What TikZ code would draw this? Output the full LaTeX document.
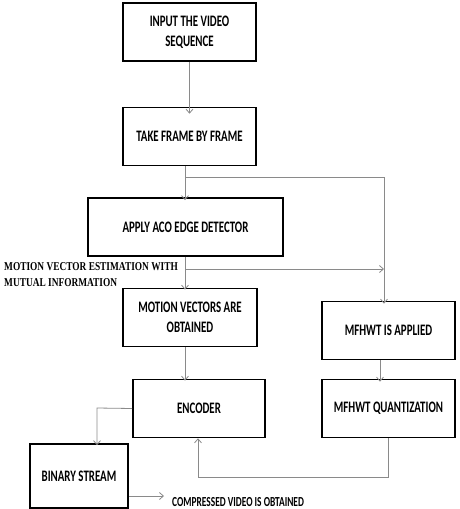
\documentclass[tikz,border=0pt]{standalone}
\usepackage{fontspec}
\setmainfont{Carlito}
\newfontfamily\boxfont[FakeStretch=0.68]{Carlito}
\newfontfamily\notefont[FakeStretch=0.78]{Liberation Serif}
\usetikzlibrary{arrows.meta, positioning}
\definecolor{clink}{HTML}{8A8A8A}
\tikzset{
  stepbox/.style={
    draw=black, line width=1.6pt,
    minimum width=#1, minimum height=58pt,
    align=center, inner sep=2pt,
    font=\boxfont\bfseries\fontsize{16}{20}\selectfont,
  },
  link/.style={
    -{Straight Barb[length=4pt,width=7pt]},
    line width=0.8pt, color=clink,
  },
  wire/.style={line width=0.8pt, color=clink},
  note/.style={font=\notefont\bfseries\fontsize{12}{16}\selectfont, align=left, inner sep=0pt},
}

\begin{document}
\begin{tikzpicture}[x=1pt, y=-1pt]
\useasboundingbox (0,0) rectangle (459,509);

%% -- main column ------------------------------------------
\node[stepbox=133pt] (input) at (189.5,32) {INPUT THE VIDEO\\SEQUENCE};
\node[stepbox=133pt] (frame) at (189.5,136.5) {TAKE FRAME BY FRAME};
\node[stepbox=195pt] (aco) at (185.5,227) {APPLY ACO EDGE DETECTOR};
\node[stepbox=134pt] (motion) at (190,317.5) {MOTION VECTORS ARE\\OBTAINED};
\node[stepbox=132pt] (encoder) at (199,408.5) {ENCODER};
\node[stepbox=98pt, minimum height=64pt] (binary) at (79,476) {BINARY STREAM};

%% -- right column -----------------------------------------
\node[stepbox=133pt] (mfhwt) at (388.5,330.5) {MFHWT IS APPLIED};
\node[stepbox=133pt] (quant) at (388.5,408.5) {MFHWT QUANTIZATION};

%% -- labels -----------------------------------------------
\node[note, anchor=north west] (mvlabel) at (4,262)
  {MOTION VECTOR ESTIMATION WITH\\MUTUAL INFORMATION};
\node[font=\boxfont\bfseries\fontsize{13.8}{14}\selectfont, anchor=west, inner sep=0pt]
  (result) at (172,502) {COMPRESSED VIDEO IS OBTAINED};

%% -- helper points ----------------------------------------
\coordinate (split) at (185,177);
\coordinate (turn) at (384,177);
\coordinate (mvsplit) at (185,269);
\coordinate (mvend) at (384,269);
\coordinate (encleft) at (97,408);
\coordinate (qdown) at (388,477);
\coordinate (encup) at (198,477);
\coordinate (outend) at (164,496);

%% -- arrows -----------------------------------------------
\draw[link] (input.south) -- ([yshift=-7pt]frame.north);
\draw[wire] (frame.south -| split) -- (split);
\draw[link] (split) -- ([yshift=-3pt]aco.north -| split);
\draw[wire] (split) -- (turn);
\draw[link] (turn) -- ([yshift=-3pt]mfhwt.north -| turn);
\draw[link] (aco.south -| mvsplit) -- ([yshift=-2pt]motion.north -| mvsplit);
\draw[link] (mvsplit) -- (mvend);
\draw[link] (motion.south -| mvsplit) -- ([yshift=-2pt]encoder.north -| mvsplit);
\draw[link] (mfhwt.south -| 380,0) -- ([yshift=-3pt]quant.north -| 380,0);
\draw[link] (encoder.west) -- (encleft) -- ([yshift=-2pt]binary.north -| encleft);
\draw[link] (quant.south -| qdown) -- (qdown) -- (encup) -- (encoder.south -| encup);
\draw[link] (binary.east |- outend) -- (outend);

\end{tikzpicture}
\end{document}
